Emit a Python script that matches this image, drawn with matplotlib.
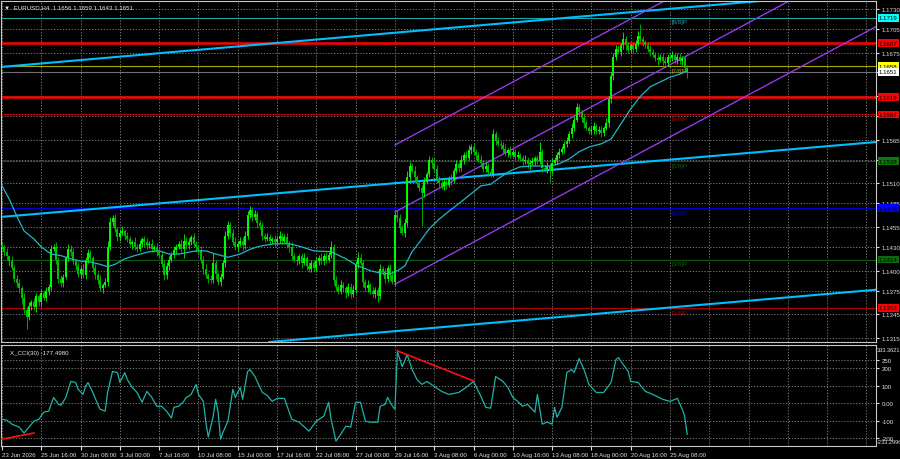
import matplotlib
matplotlib.use('Agg')
import matplotlib.pyplot as plt

plt.rcParams['font.family'] = ['Liberation Sans', 'DejaVu Sans']

# H4 candles, closes in pips above 1.1400 (bar 0 = 23 Jun 2026 00:00)
closes = [
    30, 24, 18, 12, 4, -10, -16, -22, -34, -50,
    -58, -44, -40, -46, -32, -40, -28, -34, -26, -20,
    28, 30, 14, -10, -16, -8, 16, 28, 24, 12,
    6, -4, 2, -6, 14, 22, 16, 4, -6, -12,
    -22, -18, -14, 30, 62, 66, 52, 42, 48, 50,
    44, 40, 34, 36, 30, 28, 34, 40, 36, 32,
    34, 28, 30, 24, 20, 8, -6, 6, 14, 20,
    26, 30, 34, 28, 38, 32, 36, 42, 34, 30,
    26, 14, 2, -6, -10, -12, 10, -4, -14, -8,
    10, 44, 58, 48, 36, 30, 34, 38, 32, 44,
    70, 76, 68, 72, 60, 56, 44, 40, 42, 38,
    40, 36, 40, 44, 38, 42, 34, 30, 18, 14,
    12, 18, 10, 16, 6, 2, 10, 4, 12, 16,
    12, 18, 14, 20, 30, -12, -20, -26, -18, -22,
    -28, -20, -30, -24, 8, 16, 10, -14, -22, -18,
    -26, -30, -24, -32, 2, -2, -10, 4, -6, -14,
    70, 66, 54, 48, 60, 118, 132, 126, 118, 110,
    104, 98, 112, 122, 140, 136, 128, 116, 110, 106,
    112, 108, 116, 114, 126, 134, 130, 140, 146, 142,
    152, 156, 150, 146, 140, 136, 128, 132, 124, 122,
    172, 164, 160, 158, 154, 148, 152, 146, 150, 144,
    146, 142, 138, 140, 134, 136, 138, 142, 138, 150,
    130, 128, 132, 126, 136, 140, 146, 150, 154, 160,
    164, 172, 180, 190, 206, 200, 192, 186, 180, 176,
    178, 182, 176, 178, 174, 180, 186, 216, 246, 270,
    280, 276, 284, 292, 284, 278, 284, 280, 286, 296,
    292, 288, 284, 280, 276, 272, 268, 266, 270, 264,
    262, 270, 268, 272, 266, 270, 264, 268, 256, 251,
]
first_open = 32

up_wick = [
    4, 3, 5, 2, 6, 3, 4, 5, 3, 6,  4, 5, 3, 6, 4, 3, 5, 4, 6, 3,
    5, 4, 6, 3, 5, 4, 3, 6, 4, 5,  3, 5, 4, 6, 3, 5, 4, 3, 5, 4,
    6, 3, 5, 8, 6, 4, 5, 3, 4, 6,  3, 5, 4, 3, 6, 4, 5, 3, 4, 5,
    4, 6, 3, 5, 4, 3, 6, 5, 4, 3,  5, 4, 3, 6, 8, 4, 5, 3, 6, 4,
    3, 5, 4, 6, 3, 5, 12, 4, 3, 5,  4, 6, 5, 3, 4, 6, 3, 5, 4, 6,
    5, 6, 4, 5, 3, 4, 6, 3, 5, 4,  3, 5, 4, 6, 3, 4, 5, 3, 6, 4,
    5, 3, 4, 6, 3, 5, 4, 3, 5, 4,  6, 4, 5, 3, 8, 4, 5, 3, 6, 4,
    3, 5, 4, 6, 4, 8, 5, 3, 4, 6,  3, 5, 4, 3, 6, 4, 5, 3, 4, 6,
    4, 6, 5, 4, 6, 8, 5, 4, 6, 3,  5, 4, 6, 3, 5, 4, 6, 5, 3, 4,
    5, 4, 3, 6, 4, 5, 3, 6, 4, 5,  6, 4, 5, 3, 4, 6, 3, 5, 4, 6,
    7, 4, 5, 3, 4, 6, 3, 5, 4, 3,  5, 3, 4, 6, 3, 4, 5, 3, 4, 12,
    4, 3, 5, 4, 6, 3, 4, 5, 3, 4,  5, 4, 6, 5, 6, 4, 3, 5, 4, 3,
    4, 5, 3, 4, 5, 3, 6, 4, 5, 4,  5, 4, 3, 9, 4, 5, 3, 4, 5, 6,
    15, 4, 3, 5, 4, 3, 4, 5, 3, 4,  5, 3, 4, 5, 3, 4, 5, 3, 4, 3,
]
dn_wick = [
    3, 5, 4, 6, 3, 4, 5, 6, 8, 5,  15, 4, 5, 3, 6, 4, 5, 3, 4, 5,
    4, 3, 5, 6, 4, 5, 3, 4, 6, 3,  5, 4, 6, 3, 5, 4, 3, 6, 4, 5,
    4, 6, 3, 5, 4, 5, 3, 4, 5, 3,  5, 4, 3, 6, 4, 5, 3, 4, 6, 5,
    3, 4, 5, 6, 4, 3, 6, 4, 5, 3,  4, 5, 3, 4, 12, 4, 5, 3, 4, 6,
    5, 4, 6, 3, 5, 4, 3, 6, 4, 5,  3, 5, 4, 6, 3, 4, 5, 3, 6, 4,
    4, 3, 5, 4, 6, 3, 5, 4, 3, 5,  4, 6, 3, 5, 4, 3, 5, 6, 4, 3,
    5, 4, 6, 3, 5, 4, 3, 6, 4, 5,  3, 5, 4, 3, 4, 6, 5, 4, 3, 5,
    6, 4, 5, 3, 4, 5, 3, 6, 4, 5,  4, 3, 5, 8, 4, 3, 5, 4, 6, 3,
    5, 4, 6, 3, 5, 4, 6, 3, 5, 4,  4, 41, 5, 3, 4, 6, 3, 5, 4, 3,
    4, 5, 3, 6, 4, 3, 5, 4, 6, 3,  3, 5, 4, 6, 3, 5, 4, 3, 5, 4,
    4, 5, 3, 4, 6, 3, 5, 4, 3, 5,  3, 4, 5, 3, 4, 6, 3, 5, 4, 3,
    6, 4, 5, 14, 4, 3, 5, 4, 3, 5,  4, 3, 5, 4, 3, 5, 4, 6, 3, 4,
    3, 5, 4, 3, 5, 4, 3, 5, 4, 6,  4, 3, 5, 4, 6, 3, 4, 5, 4, 3,
    4, 5, 3, 4, 5, 3, 4, 6, 3, 4,  3, 4, 5, 3, 4, 5, 3, 4, 5, 8,
]

# moving average (cyan line), bar index -> pips above 1.1400
ma_bars = [0, 3, 6, 9, 13, 16, 20, 24, 28, 32, 36, 40, 43, 46, 50, 54, 60, 64, 68,
           72, 79, 83, 87, 92, 97, 101, 105, 111, 117, 121, 127, 134, 140, 145, 150,
           154, 158, 161, 164, 167, 170, 174, 178, 182, 187, 191, 195, 199, 203, 207,
           211, 215, 223, 227, 231, 235, 239, 244, 248, 252, 256, 260, 264, 268, 272,
           276, 279]
ma_pips = [107, 90, 69, 50, 40, 30, 21, 19, 15, 12, 11, 8, 5, 8, 15, 19, 24, 25, 21,
           21, 25, 25, 21, 17, 21, 27, 31, 34, 34, 31, 25, 24, 15, 6, 0,
           -3, -4, 0, 6, 24, 36, 53, 65, 75, 87, 97, 107, 109, 118, 126,
           131, 132, 132, 135, 141, 150, 156, 160, 166, 185, 204, 220, 232, 238, 244,
           248, 252]

# X_CCI(30)
cci_bars = [0, 2, 4, 7, 9, 11, 13, 15, 17, 19, 21, 23, 24, 26, 28, 30, 31, 33, 34, 35,
            37, 39, 40, 42, 43, 45, 47, 48, 50, 51, 53, 55, 57, 59, 61, 63, 65, 67, 69, 70,
            72, 74, 75, 76, 77, 79, 80, 82, 83, 84, 86, 87, 88, 89, 90, 92, 94, 95, 97, 98,
            100, 101, 103, 106, 108, 110, 112, 115, 118, 121, 125, 128, 131, 133, 134, 136,
            138, 140, 142, 144, 146, 148, 150, 153, 154, 156, 157, 159, 160, 161, 163, 165,
            167, 169, 171, 173, 176, 179, 182, 186, 189, 192, 195, 197, 199, 201, 204, 206,
            208, 210, 212, 214, 217, 218, 220, 222, 224, 225, 226, 228, 230, 232, 233, 235,
            237, 239, 242, 245, 248, 250, 251, 253, 255, 256, 259, 262, 265, 269, 272, 275,
            277, 278, 279]
cci_vals = [-91, -97, -119, -136, -170, -136, -102, -91, -51, -45, 34, -6, -11, 34, 125, 119, 80, 51, 97, 119,
            62, -6, -34, -45, 62, 182, 176, 119, 176, 136, 91, 62, 6, 68, 34, -17, -17, -45, -85, -23,
            -17, 11, 34, 40, 51, 108, 51, 11, -108, -193, -74, 23, -51, -205, -165, -102, 80, 34, 91, 23,
            182, 193, 153, 62, 45, 11, 28, 28, -91, -108, -159, -102, -74, 6, -91, -216,
            -176, -131, -136, 6, 6, -102, -108, -108, -17, -6, 34, -17, -34, 295, 210, 278,
            193, 136, 108, 125, 97, 68, 51, 62, 91, 125, 40, -23, -28, 153, 125, 91,
            34, 11, -17, -6, -51, 51, -119, -108, -119, -23, -80, -23, 176, 193, 176, 256,
            193, 108, 62, 62, 119, 250, 261, 222, 182, 125, 119, 68, 51, 23, 11, 28,
            -34, -74, -177]

# trend lines: (bar, price) end points
blue_lines = [((0, 1.16570), (300, 1.17378)),
              ((0, 1.14679), (356, 1.15623)),
              ((317, 1.13656), (356, 1.13760))]
purple_lines = [((160, 1.15585), (356, 1.18830)),
                ((160, 1.14740), (356, 1.17990)),
                ((160, 1.13830), (356, 1.17080))]
cci_red_lines = [((0, -205), (13, -170)), ((161, 300), (192, 128))]

# horizontal levels
thick_levels = [1.1687, 1.1619]
murrey_prices = [1.1719, 1.1658, 1.1597, 1.1538, 1.1479, 1.1414, 1.1353]
murrey_names = ['[8/8]P', '[7/8]P', '[6/8]P', '[5/8]P', '[4/8]P', '[3/8]P', '[2/8]P']
murrey_colors = ['#1fa3a3', '#a8a800', '#b00000', '#0d5a0d', '#0000d0', '#0d5a0d', '#b00000']
bid_price = 1.1651

box_prices = [1.1719, 1.1687, 1.1658, 1.1651, 1.1619, 1.1597, 1.1538, 1.1479, 1.1414, 1.1353]
box_colors = ['#00ffff', '#ff0000', '#ffff00', '#ffffff', '#ff0000', '#ff0000',
              '#0b7a0b', '#0000ff', '#0b6a0b', '#ff0000']

price_ticks = [1.1315, 1.1345, 1.1375, 1.1400, 1.1430, 1.1455, 1.1485, 1.1510,
               1.1540, 1.1565, 1.1595, 1.1620, 1.1650, 1.1675, 1.1705, 1.1730]
price_tick_labels = ['1.1315', '1.1345', '1.1375', '1.1400', '1.1430', '1.1455', '1.1485', '1.1510',
                     '', '1.1565', '', '', '', '1.1675', '1.1705', '1.1730']
cci_ticks = [250, 200, 100, 0, -100, -200]
cci_tick_labels = ['250', '200', '100', '0.00', '-100', '-200']

time_ticks = list(range(0, 273, 16))
time_labels = ['23 Jun 2026', '25 Jun 16:00', '30 Jun 08:00', '3 Jul 00:00', '7 Jul 16:00',
               '10 Jul 08:00', '15 Jul 00:00', '17 Jul 16:00', '22 Jul 08:00', '27 Jul 00:00',
               '29 Jul 16:00', '3 Aug 08:00', '6 Aug 00:00', '10 Aug 16:00', '13 Aug 08:00',
               '18 Aug 00:00', '20 Aug 16:00', '25 Aug 08:00']

base = 1.1400
c = [base + v / 10000 for v in closes]
o = [base + first_open / 10000] + c[:-1]
hi = [max(a, b) + w / 10000 for a, b, w in zip(o, c, up_wick)]
lo = [min(a, b) - w / 10000 for a, b, w in zip(o, c, dn_wick)]
bars = list(range(len(c)))

GRID = '#8a8a8a'
FS = 4.4

fig = plt.figure(figsize=(9, 4.6), dpi=100, facecolor='black')
ax = fig.add_axes([1 / 900, 1 - 343 / 460, 875 / 900, 341 / 460], facecolor='black')
cax = fig.add_axes([1 / 900, 1 - 447 / 460, 875 / 900, 101 / 460], facecolor='black')

xmin, xmax = -0.41, 355.9
for a in (ax, cax):
    a.set_xlim(xmin, xmax)
    for s in a.spines.values():
        s.set_color('#c8c8c8')
        s.set_linewidth(0.8)
    for gx in range(0, 356, 16):
        a.axvline(gx, color=GRID, lw=0.6, ls=(0, (1.5, 2)), zorder=0)

ax.set_ylim(1.13101, 1.17401)
ax.set_xticks([])
ax.set_yticks(price_ticks)
ax.set_yticklabels(price_tick_labels)
ax.yaxis.tick_right()
ax.tick_params(axis='y', colors='#e0e0e0', labelsize=FS, length=2, pad=2)
for p in price_ticks:
    ax.axhline(p, color=GRID, lw=0.6, ls=(0, (1.5, 2)), zorder=0)

# levels
for p, col in zip(murrey_prices, murrey_colors):
    ax.axhline(p, color=col, lw=0.8, zorder=1)
ax.axhline(bid_price, color='#6e6e6e', lw=0.8, zorder=1)
for p in thick_levels:
    ax.axhline(p, color='#ff0000', lw=1.8, zorder=1)
for p, name, col in zip(murrey_prices, murrey_names, murrey_colors):
    ax.annotate(name, (272.8, p), xytext=(0, -1.2), textcoords='offset points',
                color=col, fontsize=FS, va='top', ha='left', zorder=2)

for (x0, y0), (x1, y1) in blue_lines:
    ax.axline((x0, y0), (x1, y1), color='#00bfff', lw=1.5, zorder=2)
for (x0, y0), (x1, y1) in purple_lines:
    ax.plot([x0, x1], [y0, y1], color='#9a3df0', lw=0.95, zorder=2)

# candles
up_col, dn_col = '#00ff00', '#00c000'
cols = [up_col if cc >= oo else dn_col for oo, cc in zip(o, c)]
ax.vlines(bars, lo, hi, colors=cols, lw=0.6, zorder=3)
ax.vlines(bars, [min(a, b) for a, b in zip(o, c)], [max(a, b) for a, b in zip(o, c)],
          colors=cols, lw=1.4, zorder=3)

ax.plot(ma_bars, [base + v / 10000 for v in ma_pips], color='#1fb8c4', lw=0.9, zorder=4)

# right-axis value boxes
for p, bg in zip(box_prices, box_colors):
    ax.text(1.0035, p, '%.4f' % p, transform=ax.get_yaxis_transform(), fontsize=FS,
            color='black', va='center', ha='left', clip_on=False, zorder=6,
            bbox=dict(boxstyle='square,pad=0.22', fc=bg, ec='none'))

ax.text(0.004, 0.982, '\u25bc  EURUSD,H4  1.1656 1.1659 1.1643 1.1651', transform=ax.transAxes,
        color='#e8e8e8', fontsize=FS, va='center', ha='left')

# CCI panel
cax.set_ylim(-244, 333.36)
cax.set_yticks(cci_ticks)
cax.set_yticklabels(cci_tick_labels)
cax.yaxis.tick_right()
cax.tick_params(axis='y', colors='#e0e0e0', labelsize=FS, length=2, pad=2)
for v in cci_ticks:
    cax.axhline(v, color=GRID, lw=0.6, ls=(0, (1.5, 2)), zorder=0)
cax.plot(cci_bars, cci_vals, color='#20b2aa', lw=0.9, zorder=3)
for (x0, y0), (x1, y1) in cci_red_lines:
    cax.plot([x0, x1], [y0, y1], color='#ff1010', lw=1.2, zorder=4)
cax.text(1.001, 0.955, '333.3621', transform=cax.transAxes, fontsize=4.1, color='#e0e0e0',
         va='center', ha='left', clip_on=False)
cax.text(1.001, 0.045, '-233.2996', transform=cax.transAxes, fontsize=4.1, color='#e0e0e0',
         va='center', ha='left', clip_on=False)
cax.text(0.01, 0.93, 'X_CCI(30) -177.4980', transform=cax.transAxes, color='#e8e8e8',
         fontsize=FS, va='center', ha='left')

cax.set_xticks(time_ticks)
cax.set_xticklabels(time_labels)
cax.tick_params(axis='x', colors='#e0e0e0', labelsize=FS, length=3, pad=1.5)
for lab in cax.get_xticklabels():
    lab.set_ha('left')

fig.savefig('out.png', dpi=100, facecolor='black')
